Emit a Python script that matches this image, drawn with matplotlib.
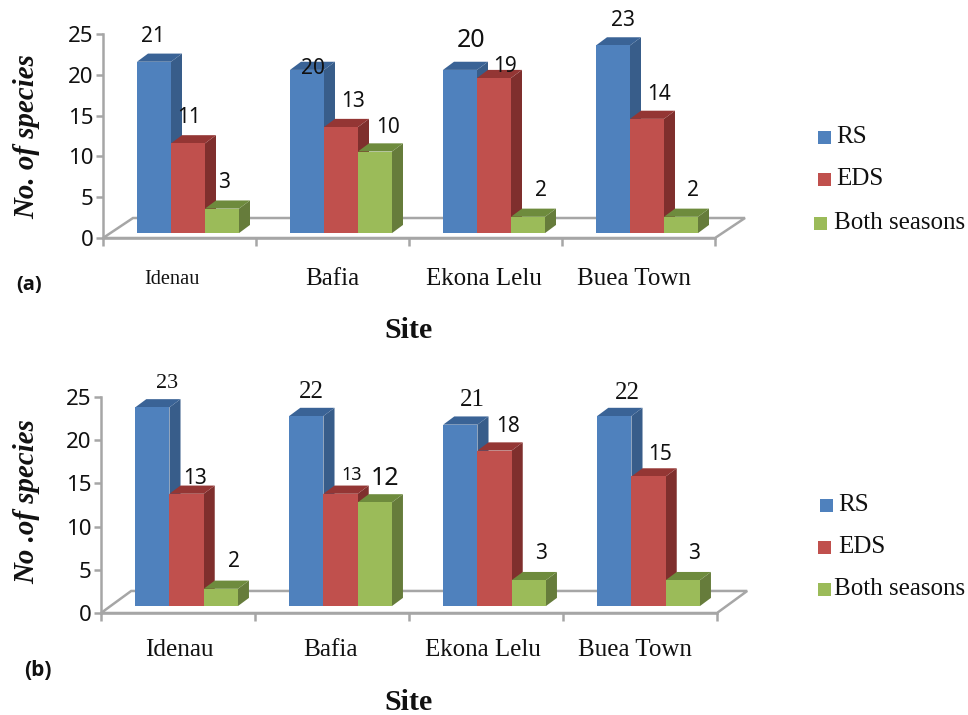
import matplotlib
matplotlib.use("Agg")
import matplotlib.pyplot as plt
from matplotlib.patches import Polygon, Rectangle

W, H = 968, 715
sites = ["Idenau", "Bafia", "Ekona Lelu", "Buea Town"]
series_names = ["RS", "EDS", "Both seasons"]
rs_a = [21, 20, 20, 23]
eds_a = [11, 13, 19, 14]
both_a = [3, 10, 2, 2]
rs_b = [23, 22, 21, 22]
eds_b = [13, 13, 18, 15]
both_b = [2, 12, 3, 3]
yticks = [0, 5, 10, 15, 20, 25]

FRONT = ["#4F81BD", "#C0504D", "#9BBB59"]
TOP = ["#3A6396", "#943634", "#6E8B3D"]
SIDE = ["#385D8A", "#7F2F2D", "#667C3B"]
GREY = "#A6A6A6"
SERIF = "Liberation Serif"
SANS = "Noto Sans"

fig = plt.figure(figsize=(W / 100, H / 100), dpi=100, facecolor="white")


def make_axes(left, right, top, bottom):
    ax = fig.add_axes([left / W, 1 - bottom / H, (right - left) / W, (bottom - top) / H])
    ax.set_xlim(0, 4)
    ax.set_ylim(0, 25)
    ax.patch.set_visible(False)
    for s in ("top", "right"):
        ax.spines[s].set_visible(False)
    for s in ("left", "bottom"):
        ax.spines[s].set_color(GREY)
        ax.spines[s].set_linewidth(1.8)
    ax.set_yticks(yticks)
    ax.set_yticklabels([str(t) for t in yticks], fontfamily=SANS, fontsize=16, color="#111111")
    ax.tick_params(axis="y", length=5, width=1.8, color=GREY, pad=2)
    ax.set_xticks(range(5))
    ax.set_xticklabels([])
    ax.tick_params(axis="x", length=6, width=1.8, color=GREY)
    return ax


def draw_panel(ax, series, floor_dy, base, depth_y, nudges, fonts, cat_nudge, cat_sizes, cat_drop):
    depth_x = 11 / 153
    floor_dx = 30 / 153
    w = 34 / 153
    x0 = 34 / 153
    ax.add_patch(Polygon([(0, 0), (floor_dx, floor_dy), (4 + floor_dx, floor_dy), (4, 0)],
                         closed=True, facecolor="white", edgecolor=GREY, lw=1.8,
                         clip_on=False, zorder=1))
    z = 3
    for i in range(4):
        for j, vals in enumerate(series):
            l = i + x0 + j * w
            r = l + w
            v = vals[i] + base
            ax.add_patch(Polygon([(r, base), (r + depth_x, base + depth_y),
                                  (r + depth_x, v + depth_y), (r, v)],
                                 closed=True, fc=SIDE[j], ec="none", clip_on=False, zorder=z))
            ax.add_patch(Polygon([(l, v), (l + depth_x, v + depth_y),
                                  (r + depth_x, v + depth_y), (r, v)],
                                 closed=True, fc=TOP[j], ec="none", clip_on=False, zorder=z))
            ax.add_patch(Rectangle((l, base), w, vals[i], fc=FRONT[j], ec="none",
                                   clip_on=False, zorder=z + 0.5))
            z += 1
    for i in range(4):
        for j, vals in enumerate(series):
            nx, ny = nudges[j][i]
            fam, size = fonts.get((j, i), (SANS, 15))
            ax.annotate(str(vals[i]), (i + x0 + (j + 0.5) * w, vals[i] + base),
                        xytext=(nx, ny), textcoords="offset pixels",
                        ha="center", va="center", fontfamily=fam, fontsize=size,
                        color="#111111", zorder=100, annotation_clip=False)
        ax.annotate(sites[i], (i + 0.5, 0), xytext=(cat_nudge[i], -cat_drop),
                    textcoords="offset pixels", ha="center", va="center",
                    fontfamily=SERIF, fontsize=cat_sizes[i], color="#111111",
                    annotation_clip=False)


def px_text(x, y, s, **kw):
    kw.setdefault("color", "#111111")
    fig.text(x / W, 1 - y / H, s, ha=kw.pop("ha", "center"), va=kw.pop("va", "center"), **kw)


def px_square(x, y, c, size=13):
    fig.add_artist(Rectangle((x / W, 1 - (y + size) / H), size / W, size / H, fc=c, ec="none",
                             transform=fig.transFigure))


# Panel (a)
ax_a = make_axes(103, 715, 34, 238)
nudges_a = [[(-1, 25), (6, 1), (11, 29), (10, 25)],
            [(1, 26), (12, 26), (11, 12), (12, 24)],
            [(2, 26), (13, 24), (13, 26), (12, 26)]]
draw_panel(ax_a, [rs_a, eds_a, both_a], 2.45, 0.6, 1.0, nudges_a, {(0, 2): (SANS, 18)},
           [-7.5, 0, -2, -5], [14.7, 18, 18, 18], 41)

# Panel (b)
ax_b = make_axes(101, 717, 397, 613)
nudges_b = [[(15, 24), (5, 24), (12, 25), (13, 23)],
            [(9, 15), (11, 19), (13, 24), (12, 22)],
            [(13, 27), (10, 24), (12, 27), (11, 27)]]
draw_panel(ax_b, [rs_b, eds_b, both_b], 2.55, 0.8, 0.95, nudges_b,
           {(0, 0): (SERIF, 16), (0, 1): (SERIF, 18), (0, 2): (SERIF, 18), (0, 3): (SERIF, 18),
            (1, 1): (SANS, 13), (2, 1): (SANS, 18)},
           [1, -2, -3, -5], [18.2, 18.2, 18, 18], 37)

# Axis titles and panel letters
px_text(409, 330, "Site", fontfamily=SERIF, fontweight="bold", fontsize=21.5)
px_text(408, 702, "Site", fontfamily=SERIF, fontweight="bold", fontsize=21.5)
px_text(27, 137, "No. of species", fontfamily=SERIF, fontweight="bold", style="italic",
        fontsize=20.8, rotation=90)
px_text(27, 502, "No .of species", fontfamily=SERIF, fontweight="bold", style="italic",
        fontsize=20.8, rotation=90)
px_text(29, 285, "(a)", fontfamily="Open Sans", fontweight="bold", fontsize=14.5)
px_text(38, 670, "(b)", fontfamily="Open Sans", fontweight="bold", fontsize=15)

# Legends
for x, y, tx, c, s in [(818, 131, 836, FRONT[0], series_names[0]),
                       (818, 173, 836, FRONT[1], series_names[1]),
                       (814, 217, 834, FRONT[2], series_names[2]),
                       (820, 499, 838, FRONT[0], series_names[0]),
                       (818, 541, 838, FRONT[1], series_names[1]),
                       (818, 583, 834, FRONT[2], series_names[2])]:
    px_square(x, y, c)
    px_text(tx, y + 6, s, ha="left", fontfamily=SERIF, fontsize=18)

fig.savefig("out.png", dpi=100)
